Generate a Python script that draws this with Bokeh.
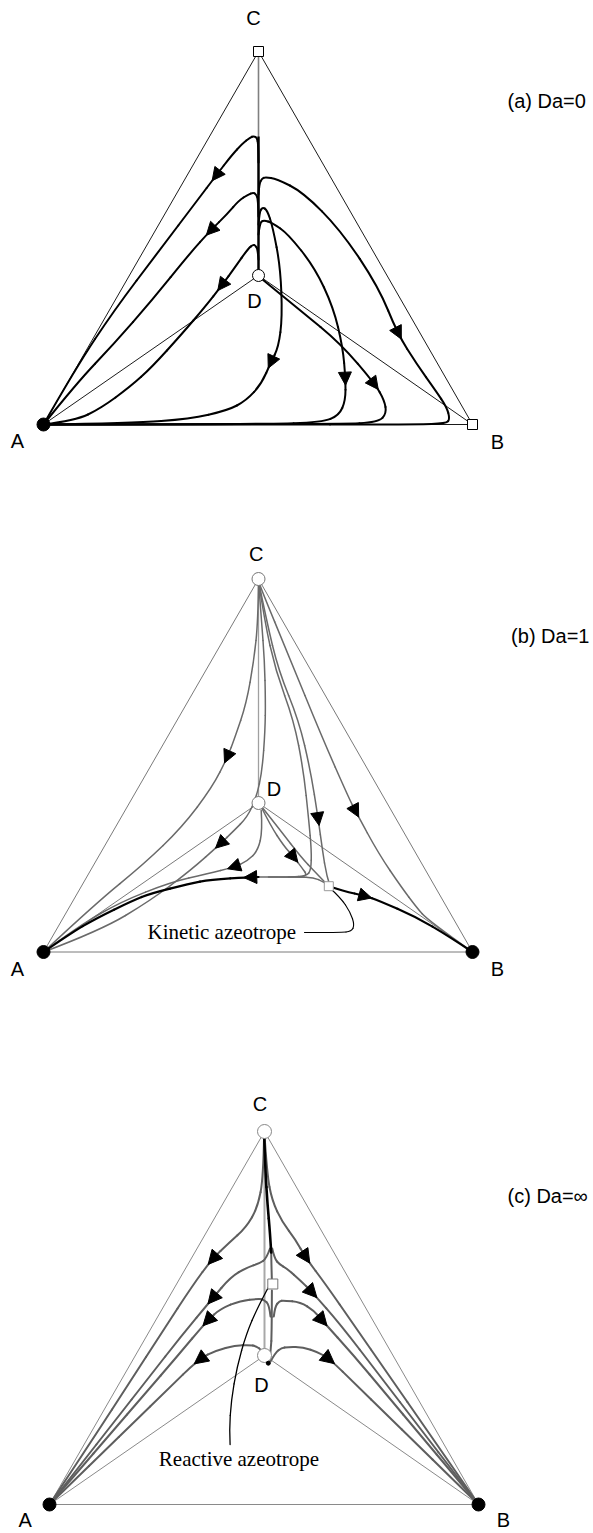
import numpy as np
from bokeh.plotting import figure
from bokeh.layouts import column
from bokeh.models import Range1d, Arrow, NormalHead, ColumnDataSource
from bokeh.core.properties import value
from bokeh.embed import file_html
from bokeh.resources import INLINE

# Triangle geometry in diagram units (A at the origin, y upwards)
VERTEX_NAMES = ["A", "B", "C", "D"]
VERTEX_U = [0, 429, 215, 215]
VERTEX_V = [0, 0, 373, 149]

SANS = "Liberation Sans"
SERIF = "Liberation Serif"
LABEL_SIZE = "20px"
NOTE_SIZE = "21px"

# ---------------- panel (a): Da = 0 ----------------
a_title = "(a) Da=0"
a_title_pos = (464, 324)
a_label_u = [-26, 454, 210, 211]
a_label_v = [-16.5, -17.5, 407, 124]

a_curve_1 = [(215, 262), (214.8, 280), (213.5, 286.5), (210.5, 288.5), (206.6, 287), (199, 281),
             (188, 269), (172.6, 249), (153.7, 224), (115.8, 174), (70.5, 114), (32.6, 57), (0, 0)]
a_curve_2 = [(215, 208), (214.6, 225), (212.5, 230.5), (209.6, 231.8), (204.7, 230), (195.3, 224),
             (184, 210.7), (167, 194), (146, 170.7), (108.3, 124), (70.5, 80.7), (32.6, 40.7), (0, 0)]
a_curve_3 = [(215, 165), (214.2, 175), (212, 179), (209.6, 179.8), (204.7, 176), (191.5, 157.3),
             (178.3, 139), (161.2, 117.3), (138.5, 90.7), (108.3, 57.3), (87, 38), (57, 16), (32, 4), (0, 0)]
a_curve_4 = [(215, 230), (215.8, 241), (218.5, 246), (221.8, 247.3), (233.1, 245.7), (259.6, 232.3),
             (297.4, 194), (335.2, 137.3), (354.1, 90.7), (373, 60.7), (392, 34), (403.3, 17.3),
             (406.3, 5.7), (403, 1), (373, 0), (200, 0), (0, 0)]
a_curve_5 = [(215, 200), (216, 212), (218.7, 217.3), (223.6, 214.7), (229.3, 197.3), (236.9, 157.3),
             (238.8, 107.3), (235, 77.3), (227.4, 62.3), (218, 40.7), (202.8, 24), (184, 14),
             (146, 5.7), (89.4, 1.3), (0, 0)]
a_curve_6 = [(215, 190), (216.3, 201), (219.9, 204.7), (229.3, 201.3), (244.4, 190.7), (271, 157.3),
             (289.8, 117.3), (299.3, 77.3), (302, 45.7), (302, 24), (295.5, 9), (278.5, 2.3),
             (221.8, 0.3), (0, 0)]
a_curve_7 = [(219, 145), (257, 114), (297, 81), (331.4, 40.7), (341, 24), (343, 11), (335, 2.3),
             (297, 0.3), (0, 0)]
a_arrow_at = [(1, 172.6, 249), (2, 167, 194), (3, 178.3, 139), (4, 354.1, 90.7),
              (5, 227.4, 62.3), (6, 302, 45.7), (7, 331.4, 40.7)]

# ---------------- panel (b): Da = 1 ----------------
b_title = "(b) Da=1"
b_title_pos = (467.6, 316.5)
b_label_u = [-26, 454, 212.7, 230.5]
b_label_v = [-17, -17, 398, 163.3]
b_azeotrope = (285.3, 65.8)
b_note = "Kinetic azeotrope"
b_note_pos = (104, 20)

b_curve_1 = [(215, 371), (214.6, 331.5), (210.4, 291.5), (202.8, 248.2), (191.5, 214.8), (184, 194.8),
             (168.8, 164.8), (138.5, 124.8), (100.7, 88.2), (51.6, 48.2), (0, 0)]
b_curve_2 = [(215, 371), (218, 331.5), (221, 291.5), (222, 251.5), (221.6, 221.5), (218.7, 181.5),
             (213, 154.8), (203.7, 134.8), (190, 121), (177, 108.2), (147, 81.5), (107, 51.5),
             (57, 21.5), (0, 0)]
b_curve_3 = [(217.7, 141.5), (219, 121.5), (214.5, 101.5), (204, 91), (190.3, 84.8), (163.7, 78.2),
             (127, 69.8), (77, 50), (37, 27), (0, 0)]
b_curve_4 = [(215, 371), (221, 331.5), (232, 281.5), (250.3, 231.5), (260, 181.5), (265.3, 131.5),
             (268, 101.5), (267.5, 82), (263, 76), (247, 74.8), (225, 75)]
b_curve_5 = [(215, 371), (223, 331.5), (235, 281.5), (255.3, 231.5), (267, 181.5), (274.7, 133.2),
             (279, 101.5), (283, 76.5), (287, 64)]
b_curve_6 = [(218, 144.5), (227, 126.5), (240, 106.5), (250.3, 94.8), (259, 83.5), (263.5, 77),
             (258, 75.3), (245, 75)]
b_curve_7 = [(218, 145.5), (237, 121.5), (257, 95.5), (272, 79.5), (285.3, 65.8)]
b_curve_8 = [(215, 371), (218, 362), (244.4, 298.2), (278.5, 214.8), (305, 154.8), (312.5, 139.8),
             (335.2, 98.2), (357.9, 64.8), (373, 44.8), (384.4, 31.5), (429, 0)]
b_sep_left_tail = [(285.3, 65.8), (280, 70.5), (270, 74.3), (255, 75.2), (210, 75)]
b_sep_left = [(215, 75), (206.6, 74.8), (167, 72.5), (146, 68.2), (107, 58.5), (89.4, 51.5),
              (51.6, 33.2), (27, 18.5), (0, 0)]
b_sep_right = [(285.3, 65.8), (300, 61), (322, 56), (335, 51.5), (373, 34.8), (405, 16), (429, 0)]
b_callout = [(285.3, 65), (297, 54.5), (307, 39.5), (311, 27), (308, 20.5), (297, 19.5), (261, 19.5)]
b_arrow_at = [(1, 184, 194.8), (2, 177, 108.2), (3, 190.3, 84.8), (6, 250.3, 94.8),
              (5, 274.7, 133.2), (8, 313.7, 141.5)]
b_sep_arrow_at = [("left", 206.6, 74.8), ("right", 322, 56.5)]

# ---------------- panel (c): Da = infinity ----------------
c_title = "(c) Da=\u221e"
c_title_pos = (458, 309)
c_label_u = [-24.4, 454, 210.5, 212]
c_label_v = [-15.5, -15.5, 400.7, 120]
c_azeotrope = (223.3, 220.5)
c_dot = (218.8, 141.3)
c_note = "Reactive azeotrope"
c_note_pos = (189.5, 45.7)

c_trunk_upper = [(214.6, 371), (215.8, 335), (218, 300), (220.5, 272), (221.7, 252)]
c_trunk_mid = [(221.7, 252), (222, 236), (222.4, 224)]
c_trunk_lower = [(219, 142), (221.5, 152), (222.2, 175), (222.3, 200), (222.4, 214)]
c_left_1 = [(214.6, 370), (213.9, 327.3), (208.2, 297.3), (196.8, 277.3), (179, 261), (163, 246),
            (143, 219), (113, 173), (80, 122), (45, 68), (0, 0)]
c_right_1 = [(215, 370), (217.5, 331), (222.5, 304), (232.8, 282.3), (246, 265), (256, 247),
             (276.3, 220), (304.1, 180), (338.8, 130), (377, 75), (429, 0)]
c_left_2 = [(220.5, 256), (217, 246), (210, 241), (197.7, 237.3), (181, 227.3), (162.7, 205.7),
            (131.4, 168), (100.1, 128), (64.1, 82), (29.7, 38), (0, 0)]
c_right_2 = [(222.7, 256), (225, 246), (230, 240), (237.7, 235.7), (251, 224), (262.7, 212.3),
             (291, 180), (329.3, 130), (371.5, 75), (406, 30), (429, 0)]
c_left_3 = [(221, 188), (219.8, 200), (214, 205), (209.3, 205.7), (191, 204), (171, 195.7),
            (157.7, 184), (127.6, 148), (94.8, 110), (60.3, 70), (27.6, 32), (0, 0)]
c_right_3 = [(224.3, 188), (225.5, 198), (230, 203.5), (234.3, 204), (251, 202.3), (264.3, 194),
             (272.7, 184), (303.4, 150), (336.9, 110), (370.4, 70), (404, 30), (429, 0)]
c_left_4 = [(215.5, 146), (213, 154), (206, 158.5), (200.6, 159.3), (185.5, 159), (166.6, 154),
            (149.6, 145.7), (117.1, 114), (84.2, 82), (54.4, 53), (24.6, 24), (0, 0)]
c_right_4 = [(221, 143), (226, 152), (232, 156.5), (238.4, 157.5), (253.6, 157.3), (268.7, 152.3),
             (280, 145.7), (306.3, 120), (337, 90), (367.7, 60), (398.4, 30), (429, 0)]
c_callout = [(219.3, 218), (208.2, 197.3), (196.8, 170.7), (187.4, 137.3), (181.7, 104),
             (179.8, 74), (180.6, 60)]
c_arrow_at = [("l1", 162.7, 245.7), ("l2", 162.7, 205.7), ("l3", 157.7, 184), ("l4", 149.6, 145.7),
              ("r1", 256, 247), ("r2", 262.7, 212.3), ("r3", 272.7, 184), ("r4", 280, 145.7)]


# ---------------- drawing helpers ----------------
def quad_parts(pts):
    """Split a point list into smooth quadratic Bezier pieces."""
    P = np.asarray(pts, dtype=float)
    n = len(P)
    if n == 2:
        return [P[0]], [(P[0] + P[1]) / 2], [P[1]]
    m = [P[0]] + [(P[i] + P[i + 1]) / 2 for i in range(1, n - 2)] + [P[-1]]
    starts = [m[i - 1] for i in range(1, n - 1)]
    ctrls = [P[i] for i in range(1, n - 1)]
    ends = [m[i] for i in range(1, n - 1)]
    return starts, ctrls, ends


def draw_curve(p, pts, color, width):
    s, c, e = quad_parts(pts)
    src = ColumnDataSource(dict(
        x0=[q[0] for q in s], y0=[q[1] for q in s],
        cx=[q[0] for q in c], cy=[q[1] for q in c],
        x1=[q[0] for q in e], y1=[q[1] for q in e]))
    p.quadratic(x0="x0", y0="y0", cx="cx", cy="cy", x1="x1", y1="y1", source=src,
                line_color=color, line_width=width, line_cap="round", line_join="round")


def sample_curve(pts, k=60):
    s, c, e = quad_parts(pts)
    t = np.linspace(0, 1, k)[:, None]
    return np.vstack([(1 - t) ** 2 * a + 2 * (1 - t) * t * b + t ** 2 * d for a, b, d in zip(s, c, e)])


def add_arrows(p, curves, marks, color, size=13):
    x0, y0, x1, y1 = [], [], [], []
    for key, u, v in marks:
        pts = sample_curve(curves[key])
        j = int(np.argmin(np.hypot(pts[:, 0] - u, pts[:, 1] - v)))
        j = min(max(j, 3), len(pts) - 4)
        tan = pts[j + 3] - pts[j - 3]
        tan = tan / (np.linalg.norm(tan) + 1e-9)
        tip = pts[j] + tan * size * 0.5
        x0.append(tip[0] - tan[0] * 3)
        y0.append(tip[1] - tan[1] * 3)
        x1.append(tip[0])
        y1.append(tip[1])
    src = ColumnDataSource(dict(x0=x0, y0=y0, x1=x1, y1=y1))
    p.add_layout(Arrow(end=NormalHead(size=size, fill_color=color, line_color=color, line_width=1),
                       x_start="x0", y_start="y0", x_end="x1", y_end="y1", source=src,
                       line_alpha=0, line_width=0))


def make_panel(height, left, bottom):
    p = figure(width=593, height=height, output_backend="svg", toolbar_location=None,
               x_range=Range1d(left, left + 593), y_range=Range1d(bottom, bottom + height),
               x_axis_location=None, y_axis_location=None, min_border=0,
               outline_line_color=None, background_fill_color="white", border_fill_color="white")
    p.grid.visible = False
    return p


def frame(p, edge_color, edge_width, cd_color, cd_width):
    A, B, C, D = [(u, v) for u, v in zip(VERTEX_U, VERTEX_V)]
    p.multi_line(xs=[[A[0], B[0], C[0], A[0]], [A[0], D[0], B[0]]],
                 ys=[[A[1], B[1], C[1], A[1]], [A[1], D[1], B[1]]],
                 line_color=edge_color, line_width=edge_width)
    p.line(x=[C[0], D[0]], y=[C[1], D[1]], line_color=cd_color, line_width=cd_width)


def labels(p, us, vs, title, title_pos):
    p.text(x=us, y=vs, text=VERTEX_NAMES, text_font=value(SANS), text_font_size=value(LABEL_SIZE),
           text_align="center", text_baseline="middle", text_color="black")
    p.text(x=[title_pos[0]], y=[title_pos[1]], text=[title], text_font=value(SANS),
           text_font_size=value(LABEL_SIZE), text_align="left", text_baseline="middle",
           text_color="black")


# ---------------- panel (a) ----------------
pa = make_panel(490, -43, -66)
frame(pa, "black", 0.9, "#808080", 1.6)
pa.line(x=[VERTEX_U[3], VERTEX_U[3]], y=[VERTEX_V[3], 288], line_color="black", line_width=2.4)
a_curves = {1: a_curve_1, 2: a_curve_2, 3: a_curve_3, 4: a_curve_4,
            5: a_curve_5, 6: a_curve_6, 7: a_curve_7}
for crv in a_curves.values():
    draw_curve(pa, crv, "black", 2.0)
add_arrows(pa, a_curves, a_arrow_at, "black", 13)
pa.scatter(x=[VERTEX_U[0]], y=[VERTEX_V[0]], marker="circle", size=13,
           fill_color="black", line_color="black")
pa.scatter(x=[VERTEX_U[1], VERTEX_U[2]], y=[VERTEX_V[1], VERTEX_V[2]], marker="square",
           size=10, fill_color="white", line_color="black", line_width=1)
pa.scatter(x=[VERTEX_U[3]], y=[VERTEX_V[3]], marker="circle", size=12,
           fill_color="white", line_color="black", line_width=1)
labels(pa, a_label_u, a_label_v, a_title, a_title_pos)

# ---------------- panel (b) ----------------
pb = make_panel(560, -43, -98.5)
frame(pb, "#7a7a7a", 1.0, "#a0a0a0", 1.3)
b_curves = {1: b_curve_1, 2: b_curve_2, 3: b_curve_3, 4: b_curve_4,
            5: b_curve_5, 6: b_curve_6, 7: b_curve_7, 8: b_curve_8}
for crv in b_curves.values():
    draw_curve(pb, crv, "#6a6a6a", 1.5)
draw_curve(pb, b_sep_left_tail, "#6a6a6a", 1.5)
draw_curve(pb, b_sep_left, "black", 2.2)
draw_curve(pb, b_sep_right, "black", 2.2)
draw_curve(pb, b_callout, "black", 1.1)
add_arrows(pb, b_curves, b_arrow_at, "black", 13)
add_arrows(pb, {"left": b_sep_left, "right": b_sep_right}, b_sep_arrow_at, "black", 13)
pb.scatter(x=VERTEX_U[:2], y=VERTEX_V[:2], marker="circle", size=13,
           fill_color="black", line_color="black")
pb.scatter(x=VERTEX_U[2:], y=VERTEX_V[2:], marker="circle", size=13,
           fill_color="white", line_color="#777777", line_width=1)
pb.scatter(x=[b_azeotrope[0]], y=[b_azeotrope[1]], marker="square", size=9,
           fill_color="white", line_color="#999999", line_width=1)
labels(pb, b_label_u, b_label_v, b_title, b_title_pos)
pb.text(x=[b_note_pos[0]], y=[b_note_pos[1]], text=[b_note], text_font=value(SERIF),
        text_font_size=value(NOTE_SIZE), text_align="left", text_baseline="middle", text_color="black")

# ---------------- panel (c) ----------------
pc = make_panel(483, -49, -29)
frame(pc, "#8a8a8a", 1.0, "#a8a8a8", 2.0)
c_curves = {"l1": c_left_1, "l2": c_left_2, "l3": c_left_3, "l4": c_left_4,
            "r1": c_right_1, "r2": c_right_2, "r3": c_right_3, "r4": c_right_4}
for crv in c_curves.values():
    draw_curve(pc, crv, "#5e5e5e", 2.0)
draw_curve(pc, c_trunk_mid, "#5e5e5e", 2.0)
draw_curve(pc, c_trunk_lower, "#5e5e5e", 2.0)
draw_curve(pc, c_trunk_upper, "black", 2.6)
draw_curve(pc, c_callout, "black", 1.3)
add_arrows(pc, c_curves, c_arrow_at, "black", 14)
pc.scatter(x=VERTEX_U[:2], y=VERTEX_V[:2], marker="circle", size=13,
           fill_color="black", line_color="black")
pc.scatter(x=VERTEX_U[2:], y=VERTEX_V[2:], marker="circle", size=14,
           fill_color="white", line_color="#888888", line_width=1)
pc.scatter(x=[c_azeotrope[0]], y=[c_azeotrope[1]], marker="square", size=10,
           fill_color="white", line_color="#777777", line_width=1)
pc.scatter(x=[c_dot[0]], y=[c_dot[1]], marker="circle", size=4,
           fill_color="black", line_color="black")
labels(pc, c_label_u, c_label_v, c_title, c_title_pos)
pc.text(x=[c_note_pos[0]], y=[c_note_pos[1]], text=[c_note], text_font=value(SERIF),
        text_font_size=value(NOTE_SIZE), text_align="center", text_baseline="middle", text_color="black")

page = column(pa, pb, pc, spacing=0)
open("out.html", "w").write(file_html(page, INLINE))
